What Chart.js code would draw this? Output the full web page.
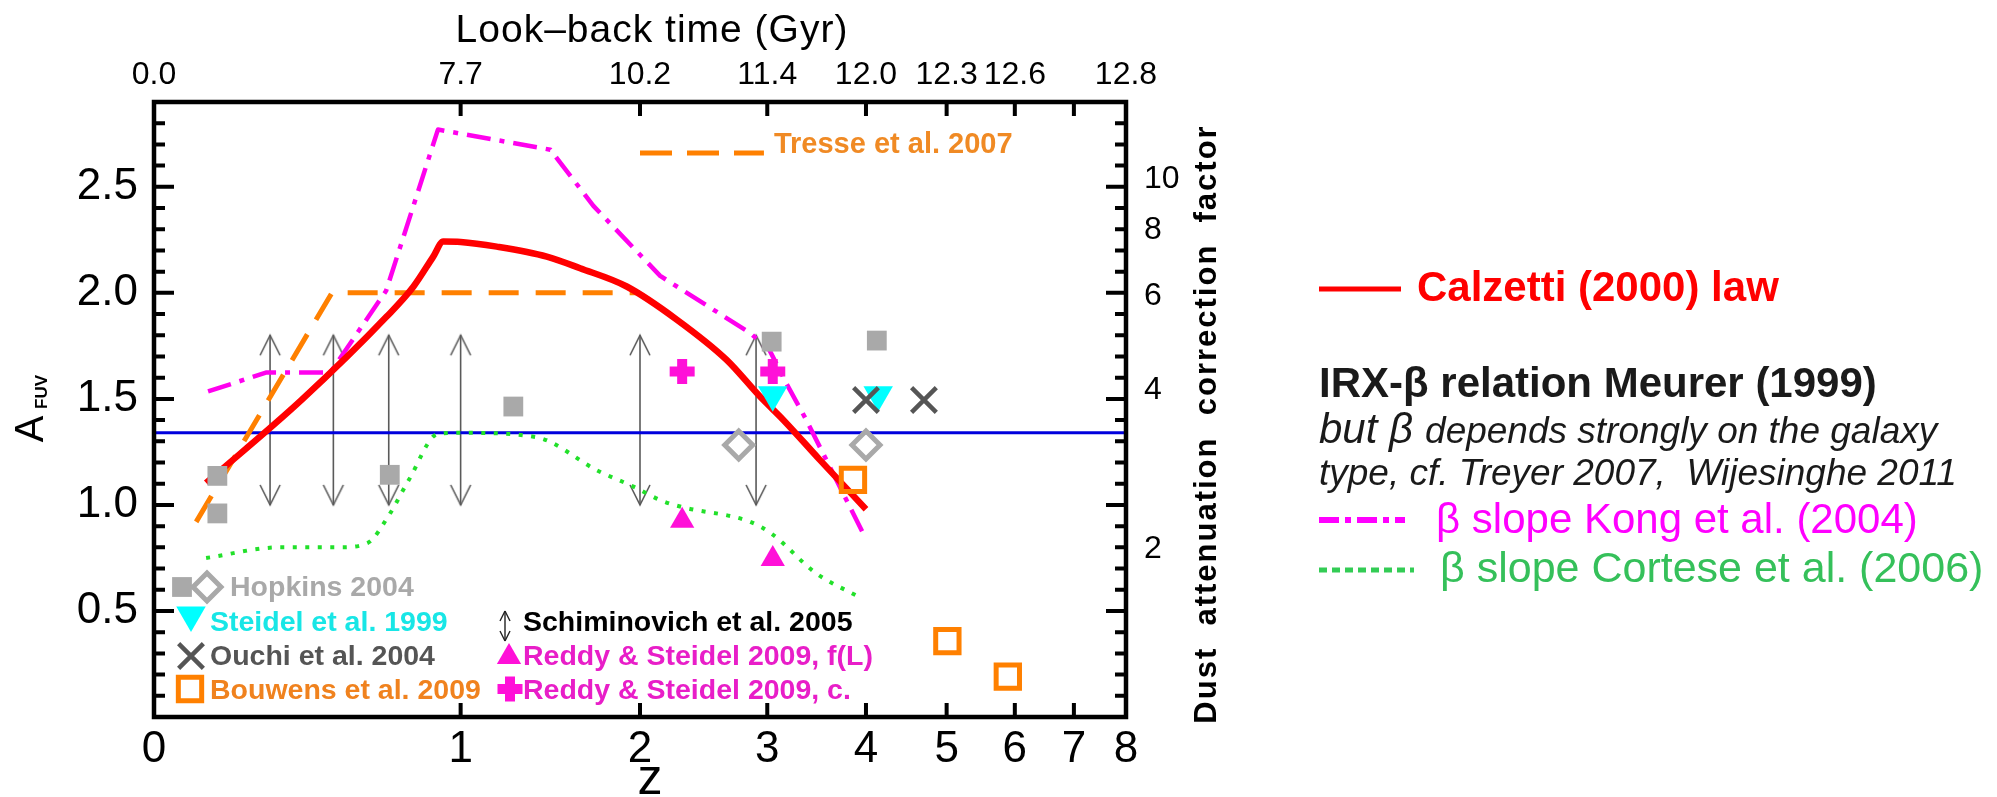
<!DOCTYPE html>
<html>
<head>
<meta charset="utf-8">
<title>Dust attenuation vs redshift</title>
<script src="https://cdn.jsdelivr.net/npm/chart.js@4.4.1/dist/chart.umd.min.js"></script>
<style>
  html, body { margin: 0; padding: 0; background: #fff; }
  #wrap { position: relative; width: 1997px; height: 797px; }
</style>
</head>
<body>
<div id="wrap"><canvas id="chart" width="1997" height="797"></canvas></div>
<script>
// ── Axis ticks ───────────────────────────────────────────────────────
const zTicks         = [0, 1, 2, 3, 4, 5, 6, 7, 8];
const lookbackZ      = [0, 1, 2, 3, 4, 5, 6, 7, 8];
const lookbackLabels = ['0.0', '7.7', '10.2', '11.4', '12.0', '12.3', '12.6', '', '12.8'];
const afuvTicks      = [0.5, 1.0, 1.5, 2.0, 2.5];
const factorTicks    = [2, 4, 6, 8, 10];

// ── Curves (z, A_FUV) ────────────────────────────────────────────────
const calzettiZ = [0.125, 0.396, 0.692, 0.798, 0.88, 0.923, 1.0, 1.17, 1.43, 1.62, 1.911, 2.262, 2.649, 2.935, 3.148, 3.5, 4.0];
const calzettiA = [1.104, 1.495, 1.888, 2.03, 2.171, 2.242, 2.24, 2.218, 2.171, 2.116, 2.03, 1.873, 1.684, 1.511, 1.401, 1.215, 0.98];

const kongZ = [0.13, 0.29, 0.49, 0.69, 0.90, 1.45, 1.70, 2.14, 2.85, 3.02, 3.18, 3.37, 4.0];
const kongA = [1.535, 1.625, 1.625, 2.01, 2.77, 2.675, 2.41, 2.08, 1.81, 1.73, 1.57, 1.40, 0.84];

const corteseZ = [0.125, 0.33, 0.52, 0.62, 0.70, 0.78, 0.90, 1.0, 1.37, 1.73, 1.96, 2.15, 2.30, 2.85, 3.05, 3.46, 3.95];
const corteseA = [0.75, 0.80, 0.80, 0.82, 0.95, 1.12, 1.335, 1.34, 1.32, 1.16, 1.085, 1.02, 0.99, 0.92, 0.86, 0.68, 0.56];

const tresseZ = [0.1, 0.495, 2.0];
const tresseA = [0.92, 2.0, 2.0];
const tresseKeyZ = [2.0, 2.97];
const tresseKeyA = [2.66, 2.66];

const meurerZ = [0, 8];
const meurerA = [1.34, 1.34];

// ── Measurements ─────────────────────────────────────────────────────
const hopkinsSqZ = [0.154, 0.154, 0.704, 1.253, 3.04, 4.124];
const hopkinsSqA = [1.137, 0.96, 1.142, 1.464, 1.77, 1.775];
const hopkinsDiZ = [2.75, 4.0];
const hopkinsDiA = [1.283, 1.283];
const steidelZ = [3.05, 4.14];
const steidelA = [1.52, 1.52];
const ouchiZ = [4.0, 4.70];
const ouchiA = [1.495, 1.495];
const reddyFLZ = [2.30, 3.05];
const reddyFLA = [0.925, 0.745];
const reddyCZ = [2.30, 3.05];
const reddyCA = [1.629, 1.629];
const bouwensZ = [3.855, 5.01, 5.89];
const bouwensA = [1.118, 0.358, 0.19];

const schimZ    = [0.3, 0.5, 0.7, 1.0, 2.0, 2.9];
const schimLow  = [1.0, 1.0, 1.0, 1.0, 1.0, 1.0];
const schimHigh = [1.8, 1.8, 1.8, 1.8, 1.8, 1.8];

// ── Styles ───────────────────────────────────────────────────────────
const FONT    = '"Liberation Sans", Arial, sans-serif';
const RED     = '#ff0000';
const MAGENTA = '#ff00ee';
const GREEN   = '#22e02a';
const ORANGE  = '#ff8000';
const BLUE    = '#0000dd';
const GRAY    = '#a9a9a9';
const DARK    = '#555555';
const CYAN    = '#00ffff';
const PINK    = '#ff10d8';
const NONE    = 'rgba(0,0,0,0)';

const markers = {
  hopkinsSq: { pointStyle: 'rect',     radius: 14,   fill: GRAY,   stroke: GRAY,   borderWidth: 0 },
  hopkinsDi: { pointStyle: 'rectRot',  radius: 14,   fill: NONE,   stroke: GRAY,   borderWidth: 5 },
  steidel:   { pointStyle: 'triangle', radius: 17,   fill: CYAN,   stroke: CYAN,   borderWidth: 0, rotation: 180 },
  ouchi:     { pointStyle: 'crossRot', radius: 17.5, fill: NONE,   stroke: DARK,   borderWidth: 4.5 },
  reddyFL:   { pointStyle: 'triangle', radius: 14,   fill: PINK,   stroke: PINK,   borderWidth: 0 },
  reddyC:    { pointStyle: 'cross',    radius: 12.5, fill: NONE,   stroke: PINK,   borderWidth: 10 },
  bouwens:   { pointStyle: 'rect',     radius: 16.5, fill: NONE,   stroke: ORANGE, borderWidth: 5 }
};

const pts = (zs, as) => zs.map((z, i) => ({ x: 1 + z, y: as[i] }));

function lineSet(zs, as, color, width, extra) {
  return Object.assign({ data: pts(zs, as), showLine: true, borderColor: color, borderWidth: width,
    pointRadius: 0, fill: false, borderJoinStyle: 'round' }, extra);
}

function markerSet(zs, as, m, order) {
  return { data: pts(zs, as), showLine: false, pointStyle: m.pointStyle, pointRadius: m.radius,
    pointRotation: m.rotation || 0, pointBackgroundColor: m.fill, pointBorderColor: m.stroke,
    pointBorderWidth: m.borderWidth, order };
}

// open V arrowheads, tip at the centre of the image
function arrowHead(dir) {
  const c = document.createElement('canvas');
  c.width = 26; c.height = 46;
  const g = c.getContext('2d');
  const back = dir === 'up' ? 43 : 3;
  g.strokeStyle = '#5a5a5a';
  g.lineWidth = 1.6;
  g.beginPath();
  g.moveTo(3, back); g.lineTo(13, 23); g.lineTo(23, back);
  g.stroke();
  return c;
}
const headUp = arrowHead('up');
const headDown = arrowHead('down');

const schimData = [];
schimZ.forEach((z, i) => {
  schimData.push({ x: 1 + z, y: schimLow[i], head: 'down' },
                 { x: 1 + z, y: schimHigh[i], head: 'up' },
                 { x: 1 + z, y: null });
});

// ── Plugins ──────────────────────────────────────────────────────────
function text(ctx, str, x, y, font, color, align) {
  ctx.font = font;
  ctx.fillStyle = color;
  ctx.textAlign = align || 'left';
  ctx.textBaseline = 'alphabetic';
  ctx.fillText(str, x, y);
  return ctx.measureText(str).width;
}

function seg(ctx, x1, y1, x2, y2, color, width, dash) {
  ctx.save();
  ctx.strokeStyle = color;
  ctx.lineWidth = width;
  ctx.setLineDash(dash || []);
  ctx.beginPath();
  ctx.moveTo(x1, y1); ctx.lineTo(x2, y2);
  ctx.stroke();
  ctx.restore();
}

function drawMarker(ctx, m, x, y) {
  ctx.save();
  ctx.fillStyle = m.fill;
  ctx.strokeStyle = m.stroke;
  ctx.lineWidth = m.borderWidth;
  Chart.helpers.drawPoint(ctx, { pointStyle: m.pointStyle, radius: m.radius,
    rotation: m.rotation || 0, borderWidth: m.borderWidth }, x, y);
  ctx.restore();
}

// frame with inward tick marks on all four sides
const frameTicks = {
  id: 'frameTicks',
  afterDatasetsDraw(chart) {
    const { ctx, chartArea: a, scales } = chart;
    ctx.save();
    ctx.strokeStyle = '#000';
    ctx.lineWidth = 4;
    ctx.beginPath();
    zTicks.slice(1, -1).forEach(z => {
      const px = scales.x.getPixelForValue(1 + z);
      ctx.moveTo(px, a.bottom); ctx.lineTo(px, a.bottom - 14);
      ctx.moveTo(px, a.top);    ctx.lineTo(px, a.top + 14);
    });
    for (let i = 1; i < 29; i++) {
      const py = scales.y.getPixelForValue(i / 10);
      const len = i % 5 === 0 ? 20 : 11;
      ctx.moveTo(a.left, py);  ctx.lineTo(a.left + len, py);
      ctx.moveTo(a.right, py); ctx.lineTo(a.right - len, py);
    }
    ctx.stroke();
    ctx.lineWidth = 4.5;
    ctx.strokeRect(a.left, a.top, a.right - a.left, a.bottom - a.top);
    ctx.restore();
  }
};

const annotations = {
  id: 'annotations',
  afterDraw(chart) {
    const { ctx, chartArea: a, scales } = chart;
    ctx.save();

    // axis titles
    ctx.save();
    ctx.letterSpacing = '1px';
    text(ctx, 'Look–back time (Gyr)', 652, 42, `39px ${FONT}`, '#000', 'center');
    ctx.restore();
    text(ctx, 'z', 650, 794, `50px ${FONT}`, '#000', 'center');

    ctx.save();
    ctx.translate(43, 429);
    ctx.rotate(-Math.PI / 2);
    text(ctx, 'A', 0, 0, `40px ${FONT}`, '#000', 'center');
    ctx.restore();
    ctx.save();
    ctx.translate(47, 392);
    ctx.rotate(-Math.PI / 2);
    text(ctx, 'FUV', 0, 0, `bold 17px ${FONT}`, '#000', 'center');
    ctx.restore();

    ctx.save();
    ctx.translate(1216, 424);
    ctx.rotate(-Math.PI / 2);
    ctx.letterSpacing = '2px';
    text(ctx, 'Dust  attenuation  correction  factor', 0, 0, `bold 31px ${FONT}`, '#000', 'center');
    ctx.restore();

    // Tresse key label
    const tx = scales.x.getPixelForValue(1 + tresseKeyZ[1]) + 10;
    const ty = scales.y.getPixelForValue(tresseKeyA[0]);
    text(ctx, 'Tresse et al. 2007', tx, ty, `bold 29px ${FONT}`, '#f08a24');

    // in-plot key
    const L = a.left, B = a.bottom;
    const lf = `bold 28.5px ${FONT}`;
    drawMarker(ctx, markers.hopkinsSq, L + 28, B - 130);
    drawMarker(ctx, markers.hopkinsDi, L + 53, B - 130);
    text(ctx, 'Hopkins 2004', L + 76, B - 121, lf, '#a9a9a9');
    drawMarker(ctx, markers.steidel, L + 37, B - 102);
    text(ctx, 'Steidel et al. 1999', L + 56, B - 86, lf, '#18e6e6');
    drawMarker(ctx, markers.ouchi, L + 37, B - 61);
    text(ctx, 'Ouchi et al. 2004', L + 56, B - 52, lf, '#555555');
    drawMarker(ctx, markers.bouwens, L + 36, B - 28);
    text(ctx, 'Bouwens et al. 2009', L + 56, B - 18, lf, '#f0821e');

    const ax = L + 351;
    seg(ctx, ax, B - 106, ax, B - 76, '#222', 1.4);
    seg(ctx, ax - 5, B - 96, ax, B - 106, '#222', 1.4);
    seg(ctx, ax + 5, B - 96, ax, B - 106, '#222', 1.4);
    seg(ctx, ax - 5, B - 86, ax, B - 76, '#222', 1.4);
    seg(ctx, ax + 5, B - 86, ax, B - 76, '#222', 1.4);
    text(ctx, 'Schiminovich et al. 2005', L + 369, B - 86, lf, '#000');
    drawMarker(ctx, markers.reddyFL, L + 355, B - 60);
    text(ctx, 'Reddy & Steidel 2009, f(L)', L + 369, B - 52, lf, '#e81ec8');
    drawMarker(ctx, markers.reddyC, L + 356, B - 28);
    text(ctx, 'Reddy & Steidel 2009, c.', L + 369, B - 18, lf, '#e81ec8');

    // side notes
    const rx = 1319;
    seg(ctx, rx, 289, rx + 82, 289, RED, 5);
    text(ctx, 'Calzetti (2000) law', rx + 98, 301, `bold 42px ${FONT}`, RED);
    text(ctx, 'IRX-β relation Meurer (1999)', rx, 397, `bold 42px ${FONT}`, '#1a1a1a');
    const w = text(ctx, 'but β', rx, 443, `italic 42px ${FONT}`, '#1a1a1a');
    text(ctx, 'depends strongly on the galaxy', rx + w + 12, 443, `italic 37px ${FONT}`, '#1a1a1a');
    text(ctx, 'type, cf. Treyer 2007,  Wijesinghe 2011', rx, 485, `italic 37px ${FONT}`, '#1a1a1a');
    seg(ctx, rx, 520, rx + 86, 520, '#ff00ff', 6, [20, 6, 6, 6]);
    text(ctx, 'β slope Kong et al. (2004)', rx + 117, 533, `42px ${FONT}`, '#ff00ff');
    seg(ctx, rx, 570, rx + 95, 570, '#33cc55', 5, [8, 5]);
    text(ctx, 'β slope Cortese et al. (2006)', rx + 121, 582, `43px ${FONT}`, '#35c05a');

    ctx.restore();
  }
};

// ── Chart ────────────────────────────────────────────────────────────
const hiddenGrid = { display: false, drawTicks: false };

new Chart(document.getElementById('chart'), {
  type: 'scatter',
  data: {
    datasets: [
      markerSet(hopkinsSqZ, hopkinsSqA, markers.hopkinsSq, 6),
      markerSet(hopkinsDiZ, hopkinsDiA, markers.hopkinsDi, 5),
      markerSet(steidelZ, steidelA, markers.steidel, 4),
      markerSet(ouchiZ, ouchiA, markers.ouchi, 3),
      markerSet(reddyFLZ, reddyFLA, markers.reddyFL, 2),
      markerSet(reddyCZ, reddyCA, markers.reddyC, 1),
      markerSet(bouwensZ, bouwensA, markers.bouwens, 0),
      lineSet(calzettiZ, calzettiA, RED, 6.5, { cubicInterpolationMode: 'monotone', order: 10 }),
      lineSet(kongZ, kongA, MAGENTA, 4.5, { borderDash: [24, 9, 5, 9], order: 11 }),
      lineSet(tresseZ, tresseA, ORANGE, 5, { borderDash: [30, 17], order: 12 }),
      lineSet(tresseKeyZ, tresseKeyA, ORANGE, 5, { borderDash: [32, 15], order: 12 }),
      lineSet(corteseZ, corteseA, GREEN, 4, { borderDash: [4, 8.5], cubicInterpolationMode: 'monotone', order: 13 }),
      lineSet(meurerZ, meurerA, BLUE, 3, { order: 14 }),
      {
        data: schimData, showLine: true, spanGaps: false, borderColor: '#5a5a5a', borderWidth: 1.6,
        pointRadius: 6, pointStyle: c => (c.raw && c.raw.head === 'down') ? headDown : headUp, order: 15
      }
    ]
  },
  options: {
    responsive: false,
    devicePixelRatio: 1,
    animation: false,
    events: [],
    layout: { padding: { left: 0, top: 0, right: 757, bottom: 0 } },
    plugins: { legend: { display: false }, tooltip: { enabled: false } },
    scales: {
      x: {
        type: 'logarithmic', position: 'bottom', min: 1, max: 9,
        grid: hiddenGrid, border: { display: false },
        afterBuildTicks: s => { s.ticks = zTicks.map(z => ({ value: 1 + z })); },
        afterFit: s => { s.height = 80; },
        ticks: { autoSkip: false, maxRotation: 0, padding: 6, color: '#000',
          font: { family: FONT, size: 44 }, callback: (v, i) => String(zTicks[i]) }
      },
      x2: {
        type: 'logarithmic', position: 'top', min: 1, max: 9,
        grid: hiddenGrid, border: { display: false },
        afterBuildTicks: s => { s.ticks = lookbackZ.map(z => ({ value: 1 + z })); },
        afterFit: s => { s.height = 102; },
        ticks: { autoSkip: false, maxRotation: 0, padding: 8, color: '#000',
          font: { family: FONT, size: 32 }, callback: (v, i) => lookbackLabels[i] }
      },
      y: {
        type: 'linear', position: 'left', min: 0, max: 2.9,
        grid: hiddenGrid, border: { display: false },
        afterBuildTicks: s => { s.ticks = afuvTicks.map(v => ({ value: v })); },
        afterFit: s => { s.width = 154; },
        ticks: { autoSkip: false, padding: 16, color: '#000',
          font: { family: FONT, size: 44 }, callback: v => v.toFixed(1) }
      },
      y2: {
        type: 'linear', position: 'right', min: 0, max: 2.9,
        grid: hiddenGrid, border: { display: false },
        afterBuildTicks: s => { s.ticks = factorTicks.map(f => ({ value: 2.5 * Math.log10(f) })); },
        afterFit: s => { s.width = 114; },
        ticks: { autoSkip: false, padding: 18, labelOffset: -8, color: '#000',
          font: { family: FONT, size: 32 }, callback: (v, i) => String(factorTicks[i]) }
      }
    }
  },
  plugins: [frameTicks, annotations]
});
</script>
</body>
</html>
